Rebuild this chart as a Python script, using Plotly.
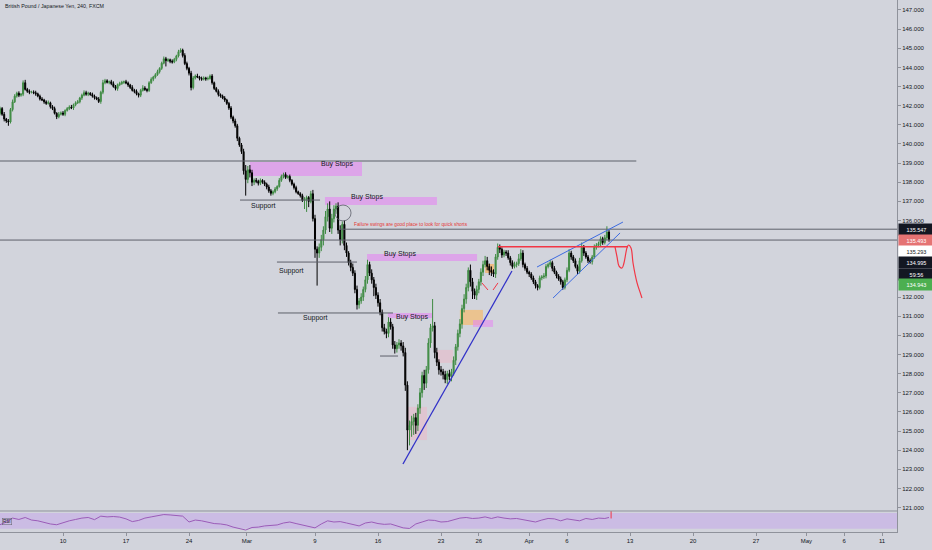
import plotly.graph_objects as go

# ---------------- data ----------------
title_text = "British Pound / Japanese Yen, 240, FXCM"

first_open = 141.60
closes = [
    141.85, 141.55, 141.30, 141.20, 141.15, 141.80, 142.20, 142.50, 142.65, 142.55,
    142.60, 143.20, 142.85, 142.75, 142.70, 142.72, 142.68, 142.62, 142.50, 142.35,
    142.30, 142.20, 142.12, 142.15, 141.95, 141.85, 141.60, 141.42, 141.55, 141.62,
    141.55, 141.75, 141.85, 141.92, 141.88, 142.05, 142.15, 142.20, 142.40, 142.55,
    142.68, 142.60, 142.65, 142.58, 142.50, 142.42, 142.35, 142.22, 142.70, 143.20,
    143.30, 143.22, 143.25, 143.15, 143.00, 142.90, 143.10, 143.15, 143.22, 143.25,
    143.18, 143.08, 142.95, 142.80, 142.75, 142.62, 142.55, 142.80, 142.92, 142.85,
    142.80, 143.20, 143.38, 143.50, 143.62, 143.78, 143.95, 144.22, 144.45, 144.35,
    144.40, 144.32, 144.28, 144.42, 144.60, 144.82, 144.90, 144.62, 144.20, 143.95,
    143.70, 142.95, 143.45, 143.55, 143.50, 143.42, 143.38, 143.45, 143.40, 143.42,
    143.55, 143.20, 142.90, 142.75, 142.58, 142.50, 142.40, 142.30, 142.12, 141.88,
    141.40, 141.20, 140.95, 140.30, 139.95, 139.60, 138.60, 138.15, 138.65, 138.50,
    138.00, 138.10, 138.05, 137.95, 138.10, 138.00, 137.90, 137.75, 137.55, 137.42,
    137.50, 137.65, 137.78, 138.10, 138.30, 138.40, 138.25, 138.30, 138.10, 137.90,
    137.72, 137.50, 137.40, 137.30, 137.05, 137.10, 137.20, 137.00, 137.40, 136.10,
    134.50, 134.30, 134.60, 135.00, 135.50, 136.20, 136.60, 135.60, 136.10, 136.60,
    136.75, 135.50, 135.00, 135.80, 134.70, 134.30, 133.80, 133.55, 133.25, 132.40,
    131.60, 131.80, 132.00, 132.40, 132.90, 133.70, 133.25, 132.90, 132.50, 132.10,
    131.70, 131.20, 130.40, 130.20, 130.10, 130.70, 130.45, 129.50, 129.30, 129.50,
    129.60, 129.45, 129.10, 127.40, 125.05, 125.30, 125.50, 125.70, 125.30, 126.20,
    127.00, 127.90, 127.50, 128.20, 129.60, 130.40, 130.50, 129.10, 128.60, 128.20,
    128.10, 127.95, 127.70, 128.00, 127.85, 128.10, 128.70, 129.40, 130.10, 130.60,
    131.40, 131.90, 132.50, 133.40, 132.80, 132.30, 132.10, 132.40, 132.80, 133.30,
    133.70, 133.90, 133.60, 133.40, 133.30, 133.20, 134.10, 134.60, 134.50, 134.20,
    134.35, 134.30, 134.05, 133.80, 133.60, 133.70, 133.75, 134.00, 134.30, 133.70,
    133.50, 133.30, 133.20, 133.00, 132.80, 132.60, 132.50, 133.00, 133.05, 133.10,
    133.60, 133.70, 133.80, 133.50, 133.30, 133.10, 132.95, 132.80, 132.50, 132.90,
    133.40, 134.30, 134.10, 133.90, 133.60, 133.35, 133.90, 134.60, 134.30, 134.10,
    133.90, 133.85, 134.10, 134.60, 134.70, 134.80, 135.05, 134.85, 135.10, 135.40,
    134.99,
]
upper_wick = [
    0.10, 0.08, 0.12, 0.06, 0.10, 0.08, 0.12, 0.10, 0.08, 0.10,
    0.06, 0.12, 0.15, 0.08, 0.10, 0.06, 0.08, 0.10, 0.06, 0.08,
    0.10, 0.06, 0.08, 0.12, 0.06, 0.08, 0.10, 0.06, 0.12, 0.08,
    0.10, 0.06, 0.08, 0.10, 0.12, 0.06, 0.08, 0.10, 0.06, 0.08,
    0.12, 0.10, 0.08, 0.06, 0.10, 0.08, 0.06, 0.10, 0.08, 0.15,
    0.10, 0.08, 0.06, 0.10, 0.12, 0.08, 0.06, 0.10, 0.08, 0.06,
    0.10, 0.08, 0.06, 0.12, 0.08, 0.10, 0.06, 0.08, 0.15, 0.10,
    0.06, 0.08, 0.10, 0.06, 0.08, 0.10, 0.06, 0.08, 0.12, 0.10,
    0.08, 0.06, 0.10, 0.08, 0.06, 0.10, 0.10, 0.08, 0.12, 0.10,
    0.08, 0.12, 0.10, 0.08, 0.12, 0.06, 0.10, 0.08, 0.06, 0.10,
    0.08, 0.10, 0.06, 0.08, 0.10, 0.06, 0.08, 0.10, 0.06, 0.08,
    0.10, 0.08, 0.12, 0.10, 0.08, 0.10, 0.15, 0.30, 0.20, 0.25,
    0.15, 0.10, 0.12, 0.08, 0.10, 0.06, 0.10, 0.08, 0.12, 0.10,
    0.08, 0.10, 0.06, 0.12, 0.10, 0.10, 0.12, 0.08, 0.10, 0.06,
    0.08, 0.10, 0.06, 0.08, 0.10, 0.12, 0.10, 0.08, 0.15, 0.20,
    0.20, 0.15, 0.20, 0.25, 0.20, 0.30, 0.30, 0.40, 0.25, 0.20,
    0.15, 0.20, 0.25, 0.15, 0.20, 0.15, 0.10, 0.15, 0.20, 0.15,
    0.20, 0.15, 0.20, 0.15, 0.20, 0.25, 0.15, 0.20, 0.15, 0.20,
    0.15, 0.20, 0.15, 0.20, 0.15, 0.25, 0.20, 0.15, 0.20, 0.15,
    0.20, 0.15, 0.20, 0.25, 0.20, 0.25, 0.30, 0.20, 0.25, 0.20,
    0.25, 0.20, 0.30, 0.20, 0.25, 0.20, 1.40, 0.20, 0.25, 0.15,
    0.20, 0.15, 0.20, 0.15, 0.20, 0.15, 0.20, 0.15, 0.20, 0.25,
    0.20, 0.25, 0.20, 0.15, 0.30, 0.20, 0.15, 0.20, 0.15, 0.20,
    0.20, 0.25, 0.20, 0.15, 0.20, 0.15, 0.15, 0.20, 0.15, 0.10,
    0.12, 0.10, 0.15, 0.10, 0.12, 0.15, 0.10, 0.25, 0.20, 0.15,
    0.10, 0.12, 0.08, 0.10, 0.12, 0.10, 0.08, 0.12, 0.10, 0.15,
    0.12, 0.10, 0.15, 0.10, 0.12, 0.08, 0.10, 0.12, 0.10, 0.12,
    0.15, 0.20, 0.12, 0.10, 0.12, 0.10, 0.15, 0.25, 0.12, 0.10,
    0.10, 0.12, 0.10, 0.15, 0.12, 0.10, 0.12, 0.10, 0.15, 0.30,
    0.10,
]
lower_wick = [
    0.10, 0.08, 0.12, 0.10, 0.20, 0.08, 0.10, 0.06, 0.08, 0.10,
    0.08, 0.10, 0.06, 0.08, 0.10, 0.06, 0.08, 0.10, 0.06, 0.08,
    0.06, 0.10, 0.08, 0.06, 0.10, 0.08, 0.06, 0.12, 0.08, 0.06,
    0.08, 0.10, 0.06, 0.08, 0.06, 0.10, 0.08, 0.06, 0.08, 0.10,
    0.06, 0.08, 0.10, 0.06, 0.08, 0.10, 0.06, 0.08, 0.12, 0.10,
    0.08, 0.06, 0.10, 0.08, 0.06, 0.10, 0.12, 0.08, 0.06, 0.08,
    0.06, 0.10, 0.08, 0.06, 0.10, 0.08, 0.12, 0.10, 0.06, 0.08,
    0.10, 0.08, 0.06, 0.10, 0.08, 0.06, 0.10, 0.08, 0.06, 0.30,
    0.06, 0.10, 0.08, 0.06, 0.10, 0.08, 0.06, 0.10, 0.08, 0.10,
    0.12, 0.15, 0.10, 0.08, 0.06, 0.10, 0.08, 0.06, 0.10, 0.08,
    0.06, 0.10, 0.08, 0.06, 0.10, 0.08, 0.06, 0.10, 0.08, 0.10,
    0.10, 0.12, 0.10, 0.15, 0.10, 0.12, 0.20, 0.85, 0.20, 0.25,
    0.20, 0.15, 0.10, 0.12, 0.10, 0.08, 0.10, 0.12, 0.10, 0.12,
    0.10, 0.08, 0.10, 0.06, 0.08, 0.10, 0.08, 0.06, 0.10, 0.08,
    0.10, 0.08, 0.06, 0.10, 0.08, 0.45, 0.65, 0.30, 0.10, 0.15,
    0.45, 1.70, 0.25, 0.20, 0.30, 0.20, 0.25, 0.20, 0.30, 0.20,
    0.25, 0.20, 0.30, 0.20, 0.25, 0.20, 0.15, 0.20, 0.15, 0.20,
    0.25, 0.20, 0.15, 0.20, 0.15, 0.20, 0.15, 0.20, 0.45, 0.20,
    0.20, 0.15, 0.20, 0.15, 0.25, 0.20, 0.15, 0.20, 0.25, 0.20,
    0.20, 0.25, 0.20, 0.30, 1.05, 0.80, 0.60, 0.70, 0.45, 0.30,
    0.30, 0.25, 0.35, 0.25, 0.20, 0.25, 0.20, 0.30, 0.20, 0.25,
    0.20, 0.25, 0.20, 0.25, 0.20, 0.25, 0.20, 0.25, 0.20, 0.20,
    0.25, 0.20, 0.25, 0.20, 0.25, 0.40, 0.20, 0.25, 0.20, 0.20,
    0.20, 0.15, 0.20, 0.25, 0.20, 0.15, 0.20, 0.15, 0.20, 0.15,
    0.12, 0.15, 0.10, 0.15, 0.12, 0.10, 0.15, 0.12, 0.10, 0.15,
    0.12, 0.10, 0.15, 0.10, 0.12, 0.15, 0.15, 0.10, 0.12, 0.10,
    0.12, 0.10, 0.12, 0.15, 0.10, 0.12, 0.10, 0.15, 0.12, 0.10,
    0.12, 0.10, 0.15, 0.12, 0.10, 0.15, 0.12, 0.10, 0.15, 0.10,
    0.12, 0.10, 0.15, 0.10, 0.12, 0.10, 0.15, 0.12, 0.10, 0.12,
    0.10,
]
# RSI read every third candle (plus the last one)
rsi_values = [
    40, 47, 57, 53.5, 58.5, 52, 50, 46, 42, 40,
    46, 50, 53.5, 57, 58.5, 53, 62, 60, 61, 59.5,
    55, 48, 51, 57, 60, 63.5, 66, 65, 63.5, 62,
    47, 52, 50, 47, 43, 42, 39.5, 34, 30.5, 26.5,
    33, 34, 37, 38, 39.5, 44.5, 47, 43, 39.5, 37,
    32, 42, 50, 47, 48, 44.5, 41, 37, 44.5, 47,
    43, 41, 42, 37, 32, 30.5, 42, 47, 52, 51,
    47, 48, 52, 57, 58.5, 56, 57, 60, 56, 60,
    57, 55, 56, 53.5, 50, 47, 52, 56, 55, 50,
    55, 52, 50, 56, 53.5, 57, 56, 58.5,
]

# x axis: trading days since Mon 3 Feb (weekends collapsed), 6 candles per day
tick_days = [5, 10, 15, 19.6, 25, 30, 35, 38, 42, 45, 50, 55, 60, 64, 67, 70]
tick_labels = ["10", "17", "24", "Mar", "9", "16", "23", "26", "Apr", "6",
               "13", "20", "27", "May", "6", "11"]

# price scale labels (133-135 are covered by the price tags)
price_ticks = [121, 122, 123, 124, 125, 126, 127, 128, 129, 130, 131, 132,
               136, 137, 138, 139, 140, 141, 142, 143, 144, 145, 146, 147]

# price tags on the right scale
tag_values = ["135.547", "135.493", "135.293", "134.995", "59:56", "134.943"]
tag_bg = ["#131722", "#e57373", "#ffffff", "#131722", "#131722", "#4caf50"]
tag_fg = ["#ffffff", "#ffffff", "#131722", "#ffffff", "#ffffff", "#ffffff"]

# ---------------- build ----------------
n = len(closes)
candles_per_day = 6
session_day = [i / candles_per_day for i in range(n)]
opens = [first_open] + closes[:-1]
highs = [max(o, c) + w for o, c, w in zip(opens, closes, upper_wick)]
lows = [min(o, c) - w for o, c, w in zip(opens, closes, lower_wick)]
rsi_x = session_day[0::3] + [session_day[-1]]

BG = "#d2d4dc"
AX = "#8f929b"
TXT = "#131722"
FONT = "Liberation Sans"

fig = go.Figure()

fig.add_trace(go.Candlestick(
    x=session_day, open=opens, high=highs, low=lows, close=closes,
    increasing=dict(line=dict(color="#3f8a43", width=1), fillcolor="#4e9c52"),
    decreasing=dict(line=dict(color="#000000", width=1), fillcolor="#000000"),
    hoverinfo="skip", showlegend=False, xaxis="x", yaxis="y",
))

fig.add_trace(go.Scatter(
    x=rsi_x, y=rsi_values, mode="lines", xaxis="x", yaxis="y2",
    line=dict(color="#9b5cb8", width=1), hoverinfo="skip", showlegend=False,
))

# red freehand projection
proj_x = [48.81, 48.97, 49.13, 49.37, 49.52, 49.76, 49.88, 50.08, 50.24, 50.56, 50.79, 50.95]
proj_y = [134.62, 134.10, 133.62, 133.52, 133.78, 134.57, 134.72, 134.57, 133.78, 132.74, 132.27, 131.95]
fig.add_trace(go.Scatter(
    x=proj_x, y=proj_y, mode="lines", line=dict(color="#f23645", width=1.2, shape="spline"),
    hoverinfo="skip", showlegend=False,
))

shapes = []

def hline(x0, x1, y, color="#5d606b", width=1):
    shapes.append(dict(type="line", xref="x", yref="y", x0=x0, x1=x1, y0=y, y1=y,
                       line=dict(color=color, width=width)))

def seg(x0, y0, x1, y1, color, width=1.2):
    shapes.append(dict(type="line", xref="x", yref="y", x0=x0, x1=x1, y0=y0, y1=y1,
                       line=dict(color=color, width=width)))

def box(x0, x1, y0, y1, color):
    shapes.append(dict(type="rect", xref="x", yref="y", x0=x0, x1=x1, y0=y0, y1=y1,
                       fillcolor=color, line=dict(width=0), layer="below"))

# RSI band
shapes.append(dict(type="rect", xref="paper", yref="y2", x0=0, x1=1, y0=30, y1=70,
                   fillcolor="rgba(196,160,238,0.45)", line=dict(width=0), layer="below"))

# zones
pink = "rgba(228,140,240,0.65)"
box(19.84, 28.73, 138.33, 139.06, pink)
box(25.79, 34.68, 136.81, 137.23, pink)
box(29.13, 37.86, 133.89, 134.25, pink)
box(30.79, 34.29, 130.91, 131.17, pink)
box(36.5, 38.33, 130.54, 131.33, "rgba(255,180,80,0.55)")
box(37.54, 39.13, 130.44, 130.8, "rgba(228,140,240,0.6)")
box(38.5, 39.2, 133.26, 133.73, "rgba(255,170,70,0.6)")
box(32.38, 33.89, 124.53, 126.26, "rgba(240,180,195,0.45)")
box(34.68, 35.95, 128.56, 129.24, "rgba(240,180,195,0.45)")

# horizontal levels
hline(0, 50.5, 139.11)
hline(0, 71.19, 134.98)
hline(27.0, 71.19, 135.547)
hline(19.05, 25.4, 137.07)
hline(21.98, 28.33, 133.83)
hline(22.06, 31.19, 131.17)
hline(30.16, 31.59, 128.92)

# trend lines
seg(31.98, 123.28, 40.63, 133.36, "#3131c8", 1.3)
seg(42.62, 133.57, 49.44, 135.92, "#3d6be0", 1)
seg(43.89, 131.95, 49.21, 135.35, "#3d6be0", 1)
hline(39.52, 49.84, 134.63, color="#f23645", width=1.5)
seg(38.25, 132.74, 38.73, 132.37, "#f23645", 1)
seg(39.13, 132.37, 39.52, 132.74, "#f23645", 1)

# circle
shapes.append(dict(type="circle", xref="x", yref="y", x0=26.59, x1=27.86, y0=135.98, y1=136.81,
                   line=dict(color="#5d606b", width=0.8)))

# RSI red marker
shapes.append(dict(type="line", xref="x", yref="y2", x0=48.5, x1=48.5, y0=56, y1=75,
                   line=dict(color="#f23645", width=1)))

# pane separator
shapes.append(dict(type="line", xref="paper", yref="paper", x0=0, x1=1, y0=0.0395, y1=0.0395,
                   line=dict(color=AX, width=1)))

annotations = []

def label(x, y, text, size=7, color=TXT, xanchor="center"):
    annotations.append(dict(x=x, y=y, xref="x", yref="y", text=text, showarrow=False,
                            xanchor=xanchor, yanchor="middle",
                            font=dict(family=FONT, size=size, color=color)))

label(26.75, 138.93, "Buy Stops")
label(29.13, 137.25, "Buy Stops")
label(31.75, 134.27, "Buy Stops")
label(32.7, 130.98, "Buy Stops")
label(20.95, 136.76, "Support")
label(23.17, 133.36, "Support")
label(25.0, 130.91, "Support")
label(27.94, 135.77, "Failure swings are good place to look for quick shorts", size=4.8,
      color="#e53935", xanchor="left")

annotations.append(dict(x=0.003, y=0.988, xref="paper", yref="paper", text=title_text,
                        showarrow=False, xanchor="left", yanchor="middle",
                        font=dict(family=FONT, size=5.3, color=TXT)))
annotations.append(dict(x=0.002, y=0.02, xref="paper", yref="paper", text="RSI",
                        showarrow=False, xanchor="left", yanchor="middle",
                        bordercolor="#5d606b", borderwidth=0.5, borderpad=0.5,
                        font=dict(family=FONT, size=4.5, color=TXT)))

for k, (t, bg, fg) in enumerate(zip(tag_values, tag_bg, tag_fg)):
    shift = [0, -11.5, -22.5, -33.5, -45, -55.5][k]
    annotations.append(dict(x=1.0, y=135.547, xref="paper", yref="y", text=t,
                            showarrow=False, xanchor="left", yanchor="middle", yshift=shift,
                            xshift=1, width=33, height=9, bgcolor=bg, align="center",
                            font=dict(family=FONT, size=5.5, color=fg)))

fig.update_layout(
    width=932, height=550,
    margin=dict(l=0, r=35, t=0, b=18),
    paper_bgcolor=BG, plot_bgcolor=BG,
    showlegend=False,
    shapes=shapes, annotations=annotations,
    xaxis=dict(domain=[0, 1], range=[0, 71.19], anchor="y2",
               tickmode="array", tickvals=tick_days, ticktext=tick_labels,
               showgrid=False, zeroline=False, showline=True, linecolor=AX,
               ticks="outside", ticklen=3, tickcolor=AX,
               tickfont=dict(family=FONT, size=6, color=TXT),
               rangeslider=dict(visible=False), fixedrange=True),
    yaxis=dict(domain=[0.0395, 1], range=[120.824, 147.522], side="right", anchor="x",
               tickmode="array", tickvals=price_ticks,
               ticktext=[f"{v:.3f}" for v in price_ticks],
               showgrid=False, zeroline=False, showline=True, linecolor=AX,
               ticks="outside", ticklen=3, tickcolor=AX,
               tickfont=dict(family=FONT, size=6, color=TXT)),
    yaxis2=dict(domain=[0, 0.0395], range=[21.5, 75.1], side="right", anchor="x",
                showticklabels=False, showgrid=False, zeroline=False,
                showline=True, linecolor=AX, ticks=""),
)

fig.write_html(
    "out.html",
    config={"displayModeBar": False},
    post_script="document.body.style.margin='0';document.body.style.background='" + BG + "';",
)
